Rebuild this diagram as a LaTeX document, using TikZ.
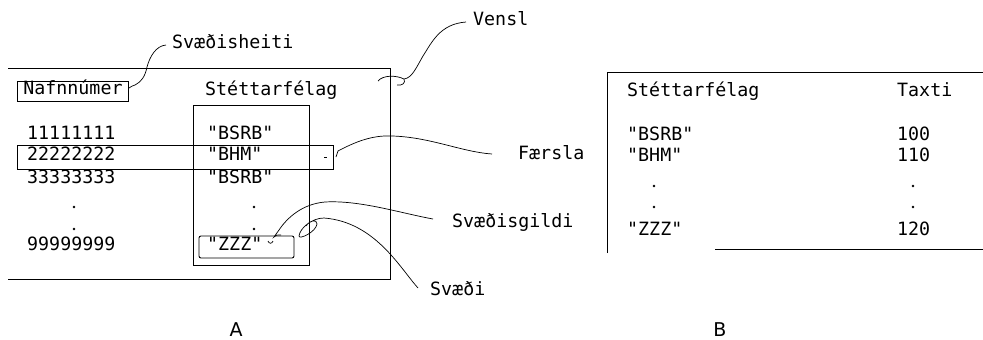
\documentclass[tikz,border=0pt]{standalone}
\usepackage{fontspec}
\newfontfamily\monofont{DejaVu Sans Mono}
\newfontfamily\capfont{DejaVu Sans}
\usetikzlibrary{positioning}

\begin{document}
\begin{tikzpicture}[
  x=1pt, y=-1pt,
  txt/.style={anchor=west, inner sep=0pt, font=\monofont\fontsize{18.3}{20}\selectfont, text height=0.73em, text depth=0pt},
  hdrbox/.style={txt, draw, line width=0.8pt, inner xsep=6pt, inner ysep=6.3pt},
  frame/.style={line width=0.9pt},
  callout/.style={line width=0.7pt},
  caption/.style={anchor=base, font=\capfont\fontsize{19}{21}\selectfont, inner sep=0pt, text depth=0pt}
]
\useasboundingbox (0,0) rectangle (983,340);

% Relation A
\draw[frame] (8,68) -- (390,68) -- (390,279) -- (8,279);
\draw[frame] (193,105) rectangle (309,265);
\draw[frame] (17,145) rectangle (333,169);
\draw[frame, rounded corners=2pt] (199,236) rectangle (294,258);
\node[hdrbox] (nafn) at (17,91) {Nafnnúmer};
\node[txt] (hdrA) at (205,92) {Stéttarfélag};
\foreach \y/\num/\val [count=\i] in {136/11111111/"BSRB", 157/22222222/"BHM", 180/33333333/"BSRB", 247/99999999/"ZZZ"} {
  \node[txt] (numA\i) at (27,\y) {\num};
  \node[txt] (valA\i) at (207,\y) {\val};
}
\foreach \y in {207,229} {
  \fill (74,\y) circle (1.4);
  \fill (254,\y) circle (1.4);
}

% Relation B
\draw[frame] (607,253) -- (607,72) -- (983,72);
\draw[frame] (715,249) -- (983,249);
\node[txt] (hdrB) at (627,93) {Stéttarfélag};
\node[txt] (hdrTaxti) at (897,93) {Taxti};
\foreach \y/\val/\tax [count=\i] in {137/"BSRB"/100, 158/"BHM"/110, 232/"ZZZ"/120} {
  \node[txt] (valB\i) at (627,\y) {\val};
  \node[txt] (taxB\i) at (897,\y) {\tax};
}
\foreach \y in {186,207} {
  \fill (654,\y) circle (1.4);
  \fill (913,\y) circle (1.4);
}

% Labels
\node[txt] (lblVensl) at (473,22) {Vensl};
\node[txt] (lblHeiti) at (172,45) {Svæðisheiti};
\node[txt] (lblFaersla) at (518,156) {Færsla};
\node[txt] (lblGildi) at (452,224) {Svæðisgildi};
\node[txt] (lblSvaedi) at (430,292) {Svæði};
\node[caption] (capA) at (236,336) {A};
\node[caption] (capB) at (720,336) {B};

% Callouts
\coordinate (venslEnd) at (378,81);
\coordinate (heitiEnd) at (129,88);
\coordinate (faerslaEnd) at (336,157);
\coordinate (gildiEnd) at (281,235);
\coordinate (svaediEnd) at (306,226);

\draw[callout] ([xshift=-7pt]lblVensl.west) .. controls (440,24) and (432,42) .. (423,56)
  .. controls (416,68) and (412,78) .. (404,79) .. controls (396,75) and (383,75) .. (venslEnd);
\draw[callout] (404,79) .. controls (406,83) and (402,86) .. (397,85);
\draw[callout] ([xshift=-6pt]lblHeiti.west) .. controls (156,46) and (150,56) .. (147,67)
  .. controls (145,77) and (141,82) .. (135,85) .. controls (133,86) and (131,86) .. (heitiEnd);
\draw[callout] (faerslaEnd) -- (338,151) .. controls (355,142) and (372,135) .. (392,136)
  .. controls (430,137) and (462,152) .. ([shift={(-26,-2)}]lblFaersla.west);
\draw[callout] (324,157) -- (327,157);
\draw[callout] ([shift={(-19,-5)}]lblGildi.west) .. controls (400,213) and (360,200) .. (325,202)
  .. controls (302,204) and (287,218) .. (279,230) -- (274,237) .. controls (276,235) .. (gildiEnd);
\draw[callout] (268,241) .. controls (269,244) and (272,244) .. (273,241);
\draw[callout] ([shift={(-12,-4)}]lblSvaedi.west) .. controls (400,268) and (375,222) .. (324,218)
  .. controls (312,218) and (300,228) .. (299,236) .. controls (299,240) and (316,232) .. (317,224)
  .. controls (317,219) and (310,220) .. (svaediEnd);
\end{tikzpicture}
\end{document}
